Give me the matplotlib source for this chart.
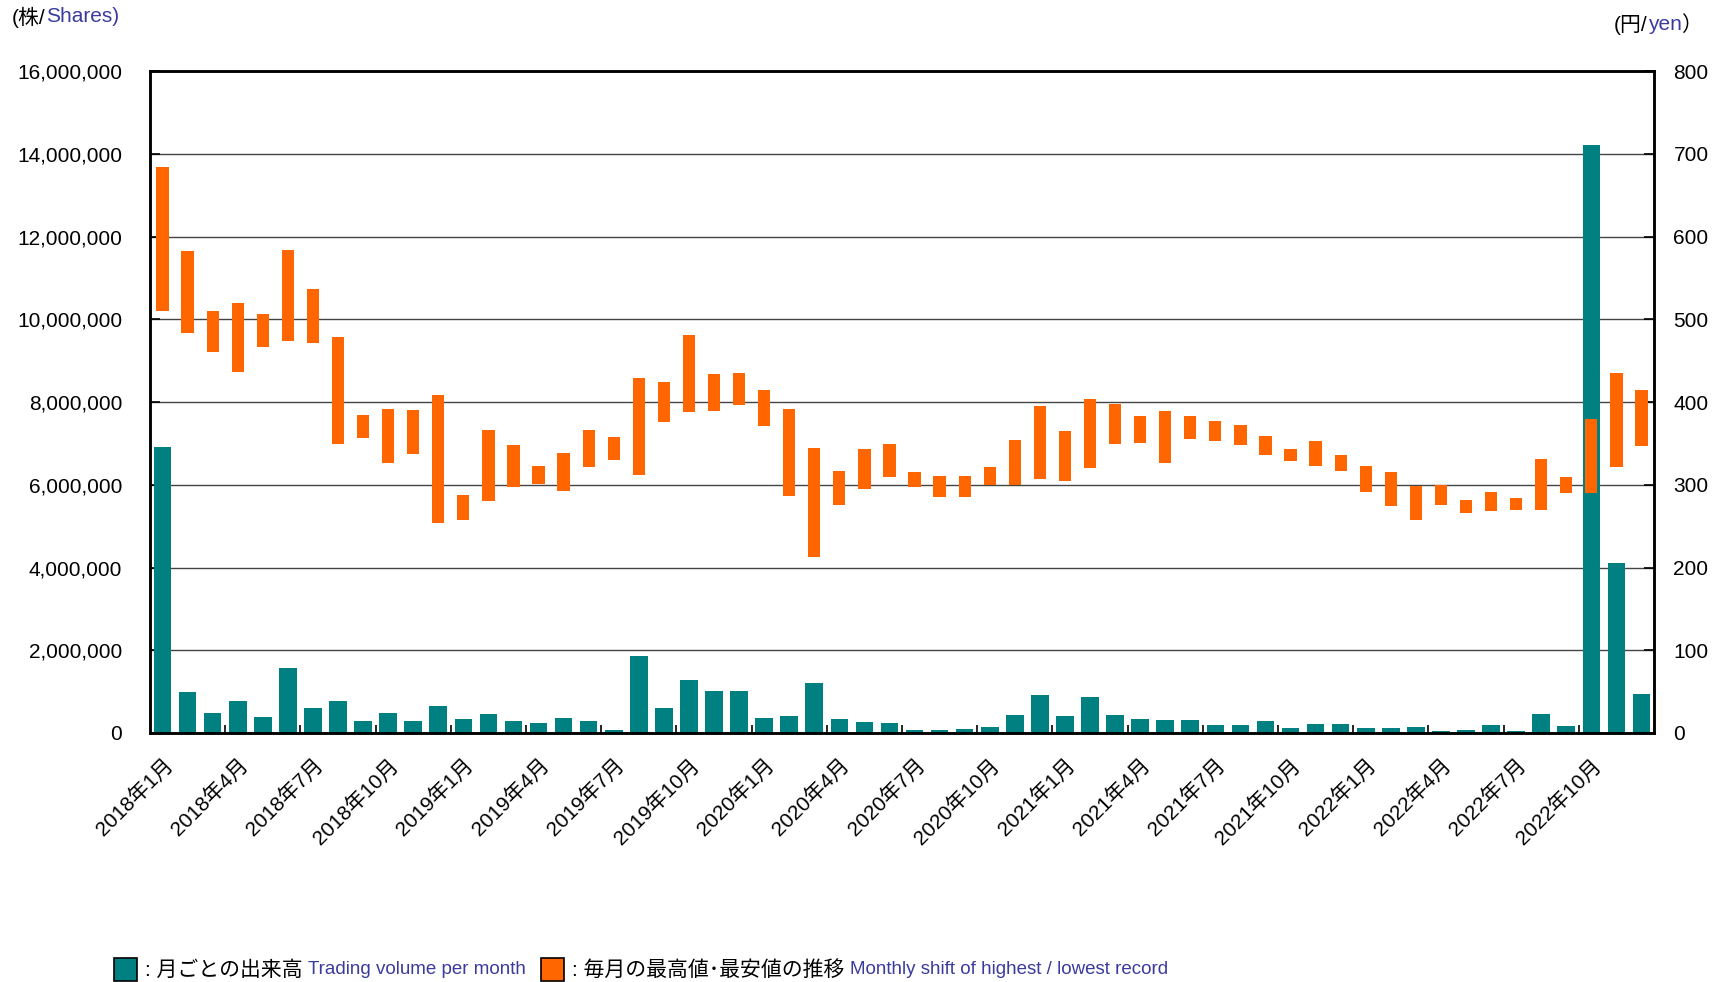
import matplotlib
matplotlib.use("Agg")
import matplotlib.pyplot as plt
from matplotlib.patches import Rectangle
from matplotlib.ticker import FuncFormatter, FixedLocator
import numpy as np

plt.rcParams['font.family'] = ['Liberation Sans', 'Noto Sans CJK JP', 'DejaVu Sans']

# monthly data, 2018年1月 .. 2022年12月
volume = [6910000, 1000000, 480000, 770000, 390000, 1570000, 610000, 770000, 280000, 490000,
          290000, 660000, 350000, 470000, 280000, 240000, 370000, 300000, 80000, 1860000,
          600000, 1280000, 1010000, 1020000, 370000, 400000, 1210000, 350000, 270000, 250000,
          80000, 80000, 100000, 150000, 430000, 910000, 420000, 880000, 430000, 350000,
          320000, 320000, 200000, 190000, 300000, 130000, 220000, 220000, 120000, 130000,
          150000, 60000, 80000, 190000, 50000, 470000, 180000, 14220000, 4110000, 940000]

price_high = [684, 583, 510, 520, 506, 584, 537, 479, 384, 392,
              390, 408, 288, 366, 348, 323, 338, 366, 358, 429,
              424, 481, 434, 435, 415, 392, 344, 317, 343, 349,
              316, 311, 310, 321, 354, 395, 365, 404, 398, 383,
              389, 383, 377, 372, 359, 343, 353, 336, 323, 315,
              298, 300, 281, 291, 284, 331, 309, 379, 435, 415]

price_low = [510, 483, 460, 436, 467, 474, 471, 349, 356, 326,
             337, 254, 257, 280, 297, 301, 292, 321, 330, 312,
             376, 388, 389, 396, 371, 287, 213, 275, 295, 309,
             297, 285, 285, 300, 300, 307, 304, 320, 349, 351,
             326, 355, 353, 348, 336, 329, 323, 317, 291, 274,
             257, 276, 266, 268, 269, 270, 290, 290, 322, 347]

month_labels = ["2018年1月", "2018年4月", "2018年7月", "2018年10月",
                "2019年1月", "2019年4月", "2019年7月", "2019年10月",
                "2020年1月", "2020年4月", "2020年7月", "2020年10月",
                "2021年1月", "2021年4月", "2021年7月", "2021年10月",
                "2022年1月", "2022年4月", "2022年7月", "2022年10月"]

TEAL = "#008080"
ORANGE = "#FF6600"
BLUE = "#3b3b9e"

W, H = 1730, 982
fig = plt.figure(figsize=(W / 100, H / 100), dpi=100)
ax = fig.add_axes([150 / W, 1 - 733 / H, 1504 / W, 662 / H])

x = np.arange(len(volume))
ax.bar(x, volume, width=0.7, color=TEAL, zorder=2)
ax.set_xlim(-0.5, len(volume) - 0.5)
ax.set_ylim(0, 16000000)
ax.set_yticks(np.arange(0, 16000001, 2000000))
ax.yaxis.set_major_formatter(FuncFormatter(lambda v, p: f"{v:,.0f}"))
ax.grid(axis='y', color='#444444', linewidth=1.0)
ax.set_axisbelow(True)

ax.set_xticks(x[::3])
ax.set_xticklabels(month_labels, rotation=45, ha='right', rotation_mode='anchor', fontsize=15)
ax.xaxis.set_minor_locator(FixedLocator(np.arange(2.5, len(volume) - 1, 3)))
ax.tick_params(axis='x', which='major', length=0, pad=16)
ax.tick_params(axis='x', which='minor', direction='in', length=6, width=1.2)
ax.tick_params(axis='y', direction='in', length=7, width=1.2, labelsize=15, pad=20)

ax2 = ax.twinx()
ax2.bar(x, np.array(price_high) - np.array(price_low), bottom=price_low,
        width=0.49, color=ORANGE, zorder=3)
ax2.set_ylim(0, 800)
ax2.set_yticks(np.arange(0, 801, 100))
ax2.tick_params(axis='y', direction='in', length=7, width=1.2, labelsize=15, pad=14)

for a in (ax, ax2):
    for s in a.spines.values():
        s.set_linewidth(1.8)
        s.set_color('black')

renderer = fig.canvas.get_renderer()


def chain(parts, x0, y0):
    # put text pieces one after another on a line
    xx = x0 / W
    for s, c, sz in parts:
        t = fig.text(xx, 1 - y0 / H, s, color=c, fontsize=sz, va='center', ha='left')
        bb = t.get_window_extent(renderer=renderer)
        xx = bb.x1 / fig.bbox.width


chain([("(株/", 'black', 15), ("Shares)", BLUE, 15)], 12, 17)
chain([("(円/", 'black', 15), ("yen", BLUE, 15), ("）", 'black', 15)], 1614, 25)

# legend at bottom
fig.patches.append(Rectangle((114 / W, 1 - 981 / H), 23 / W, 23 / H, transform=fig.transFigure,
                             facecolor=TEAL, edgecolor='black', linewidth=1.2))
fig.patches.append(Rectangle((541 / W, 1 - 981 / H), 23 / W, 23 / H, transform=fig.transFigure,
                             facecolor=ORANGE, edgecolor='black', linewidth=1.2))
chain([(": 月ごとの出来高 ", 'black', 15), ("Trading volume per month", BLUE, 13.5)], 145, 970)
chain([(": 毎月の最高値･最安値の推移 ", 'black', 15),
       ("Monthly shift of highest / lowest record", BLUE, 13.5)], 572, 970)

fig.savefig("out.png", dpi=100)
